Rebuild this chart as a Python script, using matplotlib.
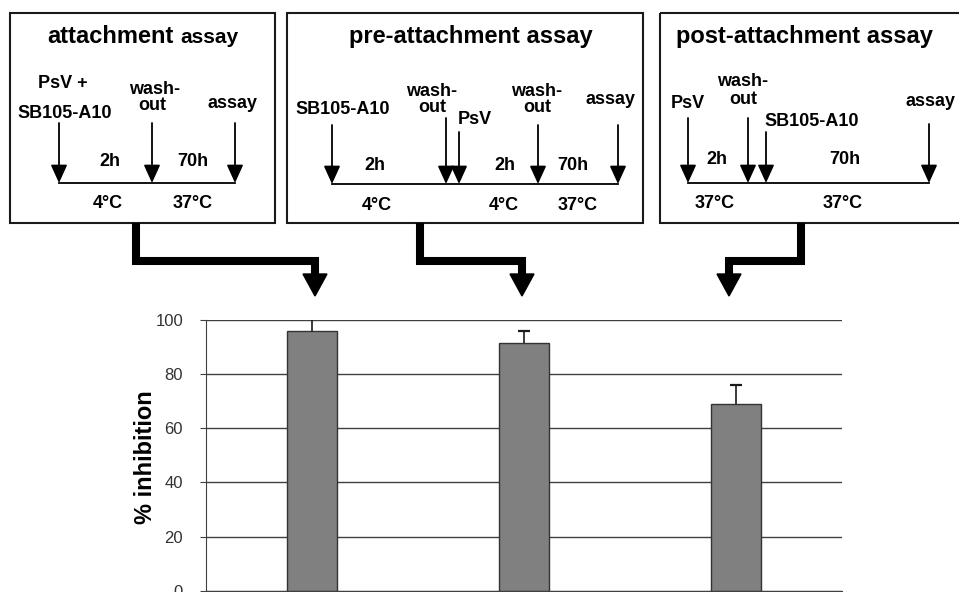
import matplotlib
matplotlib.use("Agg")
import matplotlib.pyplot as plt
from matplotlib.patches import Rectangle, Polygon

plt.rcParams["font.family"] = ["Liberation Sans", "DejaVu Sans"]

# bar chart values (% inhibition, upper error)
assays = ["attachment", "pre-attachment", "post-attachment"]
inhibition = [95.9, 91.6, 68.9]
err_up = [5.0, 4.5, 7.2]
yticks = [0, 20, 40, 60, 80, 100]

W, H = 959, 592
fig = plt.figure(figsize=(W / 100, H / 100), dpi=100, facecolor="white")

# diagram layer in pixel coordinates (y down)
d = fig.add_axes([0, 0, 1, 1])
d.set_xlim(0, W); d.set_ylim(H, 0); d.axis("off")

def box(x0, x1):
    d.add_patch(Rectangle((x0, 13), x1 - x0, 210, fill=False, ec="#1a1a1a", lw=1.5))

def lab(x, y, s, size=13):
    d.text(x, y, s, ha="center", va="center", fontsize=size, fontweight="bold")

def arrow(x, ytop, ytip=183):
    d.annotate("", xy=(x, ytip), xytext=(x, ytop),
               arrowprops=dict(arrowstyle="-|>,head_length=1.1,head_width=0.5", mutation_scale=10,
                               lw=1.3, color="k", shrinkA=0, shrinkB=0))

def timeline(x0, x1, y=183):
    d.plot([x0, x1], [y, y], color="k", lw=1.3)

# box 1: attachment assay
box(10, 275)
d.text(174, 43, "attachment", ha="right", va="baseline", fontsize=17, fontweight="bold")
d.text(180, 43, "assay", ha="left", va="baseline", fontsize=15, fontweight="bold")
lab(63, 83, "PsV +"); lab(65, 113, "SB105-A10")
lab(155, 89, "wash-"); lab(152, 105, "out"); lab(233, 103, "assay")
for x in (59, 152, 235):
    arrow(x, 123)
timeline(59, 235)
lab(110, 162, "2h"); lab(193, 162, "70h")
lab(108, 204, "4°C"); lab(193, 204, "37°C")

# box 2: pre-attachment assay
box(287, 643)
lab(471, 37, "pre-attachment assay", 17)
lab(343, 110, "SB105-A10")
lab(432, 92, "wash-"); lab(432, 108, "out"); lab(475, 120, "PsV")
lab(537, 92, "wash-"); lab(537, 108, "out"); lab(610, 100, "assay")
for x, yt in ((332, 125), (446, 118), (459, 132), (538, 125), (618, 125)):
    arrow(x, yt, 184)
timeline(332, 618, 184)
lab(375, 165, "2h"); lab(505, 165, "2h"); lab(573, 165, "70h")
lab(377, 205, "4°C"); lab(504, 205, "4°C"); lab(578, 205, "37°C")

# box 3: post-attachment assay (runs off the right edge)
box(660, 970)
lab(804, 37, "post-attachment assay", 17)
lab(688, 103, "PsV"); lab(743, 81, "wash-"); lab(743, 99, "out")
lab(930, 102, "assay"); lab(812, 122, "SB105-A10")
for x, yt in ((688, 118), (748, 118), (766, 132), (929, 124)):
    arrow(x, yt)
timeline(688, 929)
lab(717, 160, "2h"); lab(845, 160, "70h")
lab(715, 204, "37°C"); lab(843, 204, "37°C")

# thick connectors from the boxes down to the bars
for xa, xb in ((136, 315), (420, 522), (801, 729)):
    d.plot([xa, xa, xb, xb], [223, 261, 261, 275], color="k", lw=5.8,
           solid_joinstyle="miter", solid_capstyle="butt")
    d.add_patch(Polygon([(xb - 12, 274), (xb + 12, 274), (xb, 296)], closed=True, fc="k", ec="k"))

# bar chart
ax = fig.add_axes([206 / W, (H - 590.7) / H, (842 - 206) / W, (590.7 - 320) / H])
xpos = range(len(assays))
ax.bar(xpos, inhibition, width=0.24, color="#808080", edgecolor="#333333", linewidth=1.0, zorder=2)
eb = ax.errorbar(xpos, inhibition, yerr=[[0] * len(err_up), err_up], fmt="none", ecolor="#1a1a1a",
                 elinewidth=1.2, capsize=4, capthick=1.6, zorder=3)
eb[1][0].set_visible(False)  # only the upper cap is drawn
ax.set_xlim(-0.5, len(assays) - 0.5)
ax.set_ylim(0, 100)
ax.set_yticks(yticks)
ax.set_xticks([])
ax.yaxis.grid(True, color="#404040", lw=1.0)
ax.set_axisbelow(True)
for s in ("top", "right"):
    ax.spines[s].set_visible(False)
for s in ("left", "bottom"):
    ax.spines[s].set_color("#404040")
ax.tick_params(axis="y", direction="out", length=4.5, color="#404040", labelsize=12,
               labelcolor="#333333", pad=12)
ax.set_ylabel("% inhibition", fontsize=17, fontweight="bold")
ax.yaxis.set_label_coords(-0.077, 0.494)

fig.savefig("out.png", dpi=100, facecolor="white")
